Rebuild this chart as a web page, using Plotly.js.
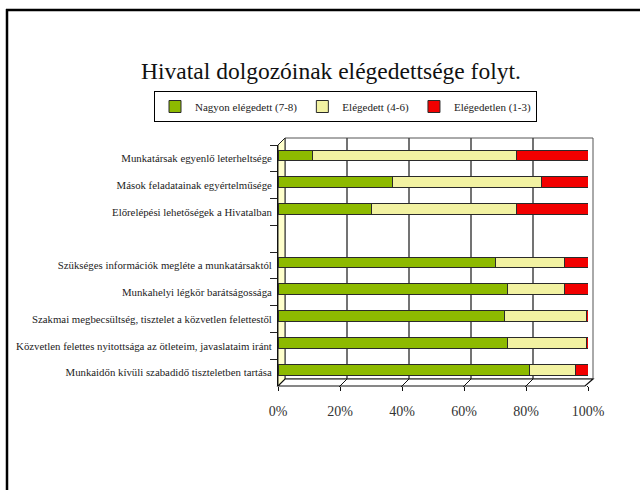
<!DOCTYPE html>
<html>
<head>
<meta charset="utf-8">
<script src="https://cdn.plot.ly/plotly-3.0.1.min.js"></script>
<style>html,body{margin:0;padding:0;background:#fff;}#chart{width:640px;height:490px;}</style>
</head>
<body>
<div id="chart"></div>
<script>
const categories = [
  "Munkatársak egyenlő leterheltsége",
  "Mások feladatainak egyértelműsége",
  "Előrelépési lehetőségek a Hivatalban",
  " ",
  "Szükséges információk megléte a munkatársaktól",
  "Munkahelyi légkör barátságossága",
  "Szakmai megbecsültség, tisztelet a közvetlen felettestől",
  "Közvetlen felettes nyitottsága az ötleteim, javaslataim iránt",
  "Munkaidőn kívüli szabadidő tiszteletben tartása"
];
const nagyon = [11, 37, 30, null, 70, 74, 73, 74, 81];
const elegedett = [66, 48, 47, null, 22.5, 18.5, 26.5, 25.5, 15];
const elegedetlen = [23, 15, 23, null, 7.5, 7.5, 0.5, 0.5, 4];
const seriesNames = ["Nagyon elégedett (7-8)", "Elégedett (4-6)", "Elégedetlen (1-3)"];
const tickVals = [0, 20, 40, 60, 80, 100];

const serif = "Liberation Serif, Times New Roman, serif";
const colors = ["#8DBA00", "#F2F2A2", "#F20000"];
const vals = [nagyon, elegedett, elegedetlen];

const traces = vals.map((v, i) => ({
  type: "bar",
  orientation: "h",
  y: categories,
  x: v,
  name: seriesNames[i],
  width: 0.4,
  offset: -0.31,
  marker: {color: colors[i], line: {color: "#2a2a2a", width: 1}},
  hoverinfo: "x+y"
}));

// plot area in px: x 278..588, y 145..386
const px = p => (p - 278) / 310;
const py = p => (386 - p) / 241;

const shapes = [];
// back wall
shapes.push({type: "rect", xref: "paper", yref: "paper", x0: px(285), x1: px(593), y0: py(379), y1: py(138),
  line: {color: "#555", width: 1}, fillcolor: "#fff", layer: "below"});
// grid lines on back wall
tickVals.slice(1, 5).forEach(t => shapes.push({type: "line", xref: "x", xsizemode: "pixel", xanchor: t, x0: 7, x1: 7,
  yref: "paper", y0: py(379), y1: py(138), line: {color: "#444", width: 1.5}, layer: "below"}));
// left wall
shapes.push({type: "path", xref: "paper", yref: "paper",
  path: `M0,${py(386)} L${px(285)},${py(379)} L${px(285)},${py(138)} L0,${py(145)} Z`,
  fillcolor: "#FFFFCC", line: {color: "#222", width: 1}, layer: "below"});
// floor
shapes.push({type: "path", xref: "paper", yref: "paper",
  path: `M0,${py(386)} L${px(285)},${py(379)} L${px(593)},${py(379)} L${px(585)},${py(386)} Z`,
  fillcolor: "#fff", line: {color: "#111", width: 1.2}, layer: "below"});
// floor depth lines at ticks
tickVals.forEach(t => shapes.push({type: "line", xref: "x", xsizemode: "pixel", xanchor: t, x0: -1, x1: 7,
  yref: "paper", y0: py(387), y1: py(379), line: {color: "#111", width: 1}, layer: "below"}));
// outer frame (top and left edges)
shapes.push({type: "line", xref: "paper", yref: "paper", x0: px(6), x1: px(660), y0: py(10), y1: py(10), line: {color: "#000", width: 2.5}});
shapes.push({type: "line", xref: "paper", yref: "paper", x0: px(7), x1: px(7), y0: py(9), y1: py(500), line: {color: "#000", width: 2.5}});

const layout = {
  width: 640, height: 490,
  margin: {l: 278, r: 52, t: 145, b: 104},
  paper_bgcolor: "#fff", plot_bgcolor: "rgba(0,0,0,0)",
  barmode: "stack",
  showlegend: true,
  font: {family: serif, color: "#222"},
  title: {text: "Hivatal dolgozóinak elégedettsége folyt.", font: {family: serif, size: 23.5, color: "#111"},
    x: 331 / 640, xanchor: "center", y: 1 - 71 / 490, yanchor: "middle"},
  legend: {orientation: "h", x: px(154), xanchor: "left", y: py(91), yanchor: "top",
    bordercolor: "#000", borderwidth: 1, bgcolor: "#fff",
    font: {family: serif, size: 11, color: "#222"}, itemwidth: 30, traceorder: "normal", tracegroupgap: 0},
  xaxis: {range: [0, 100], tickvals: tickVals, ticktext: tickVals.map(v => v + "%"), showgrid: false, zeroline: false,
    showline: false, ticks: "outside", ticklen: 4, tickcolor: "#111",
    tickfont: {family: serif, size: 14, color: "#333"}, ticklabelstandoff: 8, fixedrange: true},
  yaxis: {type: "category", categoryarray: categories, categoryorder: "array", autorange: "reversed",
    showgrid: false, zeroline: false, showline: true, linecolor: "#111", linewidth: 1,
    ticks: "outside", tickson: "boundaries", ticklen: 7, tickcolor: "#222",
    tickfont: {family: serif, size: 10.8, color: "#222"}, ticklabelstandoff: 3, fixedrange: true},
  shapes: shapes
};

Plotly.newPlot("chart", traces, layout, {displayModeBar: false, staticPlot: true});
</script>
</body>
</html>
